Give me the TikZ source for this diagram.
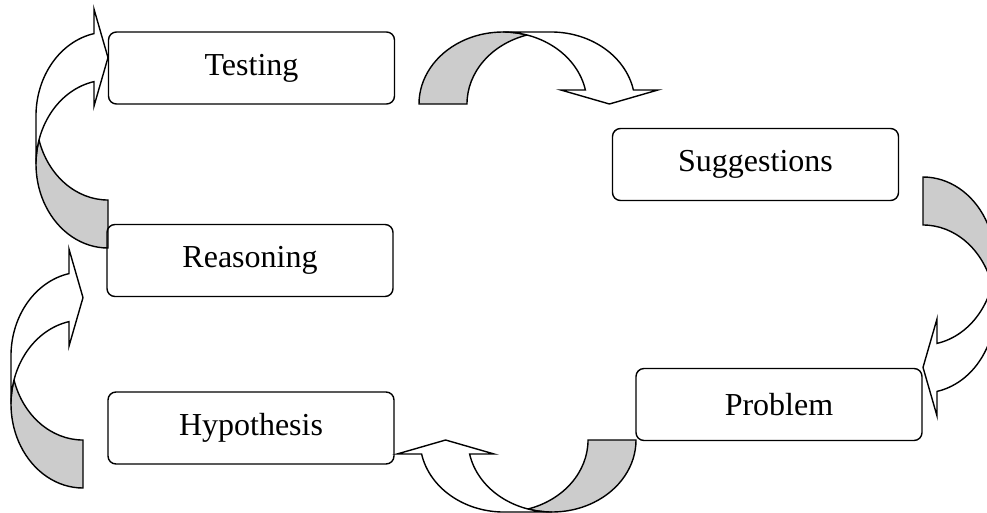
\documentclass[tikz,border=0pt]{standalone}
\usepackage{fontspec}
\setmainfont{Liberation Serif}
\definecolor{backshade}{RGB}{204,204,204}
\tikzset{
  stage/.style={draw, rounded corners=8pt, line width=1.4pt,
    minimum width=286pt, minimum height=72pt, inner sep=0pt,
    font=\fontsize{32}{38}\selectfont},
  arrowline/.style={line width=1.4pt, line join=miter},
  % curved block arrow: tail at the origin, bending left, head on top
  bentarrow/.pic={
    \draw[arrowline, fill=backshade] (0,0)
      arc[start angle=270, end angle=163.4, x radius=72pt, y radius=84pt]
      arc[start angle=196.6, end angle=270, x radius=72pt, y radius=84pt] -- cycle;
    \draw[arrowline, fill=white] (-72,-84)
      arc[start angle=180, end angle=101.2, x radius=72pt, y radius=84pt]
      -- (-14,-141.9) -- (0,-190.4) -- (-14,-238.9) -- (-14,-214.4)
      arc[start angle=101.2, end angle=180, x radius=72pt, y radius=84pt] -- cycle;
  }
}
\begin{document}
\begin{tikzpicture}[x=1pt,y=-1pt]
  \path[use as bounding box, fill=white] (0,0) rectangle (987,512);
  % block arrows between the stages
  \pic at (108,248) {bentarrow};
  \pic at (83,488) {bentarrow};
  \pic[rotate=-90] at (419,104) {bentarrow};
  \pic[rotate=180] at (923,177) {bentarrow};
  \pic[rotate=90] at (636,440) {bentarrow};
  % stages
  \node[stage] (testing) at (251.5,68) {Testing};
  \node[stage] (suggestions) at (755.5,164.5) {Suggestions};
  \node[stage] (reasoning) at (250,260.5) {Reasoning};
  \node[stage] (problem) at (779,404.5) {Problem};
  \node[stage] (hypothesis) at (251,428) {Hypothesis};
\end{tikzpicture}
\end{document}
